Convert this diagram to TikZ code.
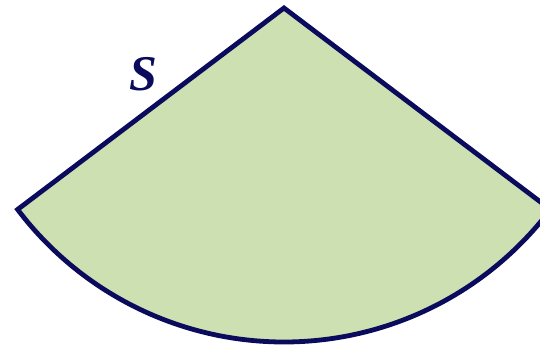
\documentclass[tikz,border=0pt]{standalone}
\usepackage{fontspec}
\setmainfont{Liberation Serif}
\usepackage{xcolor}
\usepackage{tikz}
\usetikzlibrary{calc}
\definecolor{navy}{HTML}{0B0B5E}
\definecolor{leaf}{HTML}{CDE0B1}

\begin{document}
\begin{tikzpicture}[x=0.5pt,y=0.5pt]
\useasboundingbox (0,0) rectangle (540,345);
\clip (0,0) rectangle (540,345);
\coordinate (apex) at (284,337);
\coordinate (left) at ($(apex)+(217.1:334)$);
\draw[navy,fill=leaf,line width=2.4pt] (apex)--(left) arc[start angle=217.1,end angle=322.9,radius=334]--cycle;
\node[navy,font=\fontsize{25}{27}\selectfont\bfseries\itshape] (lab) at (143,271) {S};
\end{tikzpicture}
\end{document}
